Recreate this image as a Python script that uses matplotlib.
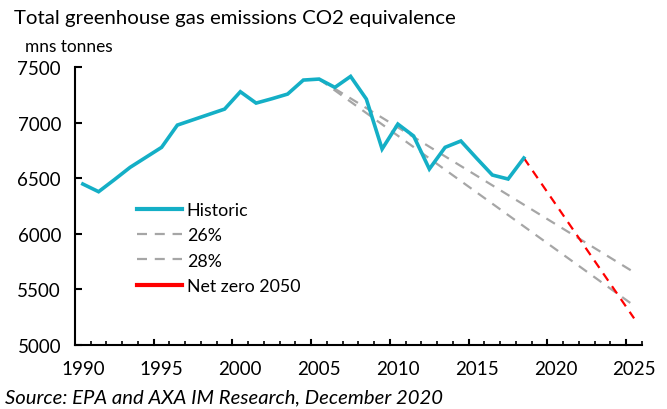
import matplotlib
matplotlib.use("Agg")
import matplotlib.pyplot as plt
from matplotlib.lines import Line2D
from matplotlib.ticker import MultipleLocator, FixedLocator

plt.rcParams['font.family'] = ['Lato', 'DejaVu Sans']

# historic emissions, mns tonnes CO2 equivalent
years = list(range(1990, 2019))
historic = [6448, 6379, 6487, 6598, 6688, 6778, 6978, 7026, 7074, 7122,
            7278, 7176, 7215, 7257, 7383, 7392, 7317, 7416, 7212, 6763,
            6987, 6880, 6583, 6778, 6835, 6680, 6529, 6493, 6682]

# target paths
path_years = [2005, 2025]
path_26 = [7392, 5654]
path_28 = [7392, 5354]
netzero_years = [2018, 2025]
netzero = [6682, 5240]

teal = '#14AFC6'
grey = '#A6A6A6'
red = '#FF0000'

fig = plt.figure(figsize=(6.67, 4.10), dpi=100)
ax = fig.add_axes([0.1124, 0.156, 0.8501, 0.678])

ax.plot(path_years, path_26, color=grey, lw=1.6, dashes=(4.5, 3.5))
ax.plot(path_years, path_28, color=grey, lw=1.6, dashes=(4.5, 3.5))
ax.plot(netzero_years, netzero, color=red, lw=1.6, dashes=(4, 3))
ax.plot(years, historic, color=teal, lw=2.6, solid_joinstyle='miter')

ax.set_xlim(1989.5, 2025.5)
ax.set_ylim(5000, 7500)
ax.xaxis.set_major_locator(FixedLocator(range(1990, 2026, 5)))
ax.xaxis.set_minor_locator(FixedLocator([y - 0.5 for y in range(1990, 2027)]))
ax.yaxis.set_major_locator(MultipleLocator(500))
ax.tick_params(axis='x', which='major', length=0, labelsize=13.5, pad=11)
ax.tick_params(axis='x', which='minor', direction='in', length=3, width=1.2)
ax.tick_params(axis='y', direction='in', length=5, width=1.5, labelsize=13.5, pad=10)
for s in ['top', 'right']:
    ax.spines[s].set_visible(False)
for s in ['left', 'bottom']:
    ax.spines[s].set_linewidth(1.5)

# major ticks sit between categories
for x in range(1994, 2025, 5):
    ax.plot([x + 0.5, x + 0.5], [5000, 5045], color='black', lw=1.5, clip_on=False)

handles = [Line2D([], [], color=teal, lw=3),
           Line2D([], [], color=grey, lw=1.6, dashes=(4.5, 3.5)),
           Line2D([], [], color=grey, lw=1.6, dashes=(4.5, 3.5)),
           Line2D([], [], color=red, lw=3)]
labels = ['Historic', '26%', '28%', 'Net zero 2050']
ax.legend(handles, labels, loc='upper left', bbox_to_anchor=(0.097, 0.54),
          frameon=False, fontsize=12.8, handlelength=2.5, handletextpad=0.3,
          labelspacing=0.52, borderaxespad=0)

fig.text(0.021, 0.955, 'Total greenhouse gas emissions CO2 equivalence',
         fontsize=14.7, va='center')
fig.text(0.037, 0.885, 'mns tonnes', fontsize=12.4, va='center')
fig.text(0.008, 0.03, 'Source: EPA and AXA IM Research, December 2020',
         fontsize=14.6, style='italic', va='center')

fig.savefig('out.png', dpi=100)
